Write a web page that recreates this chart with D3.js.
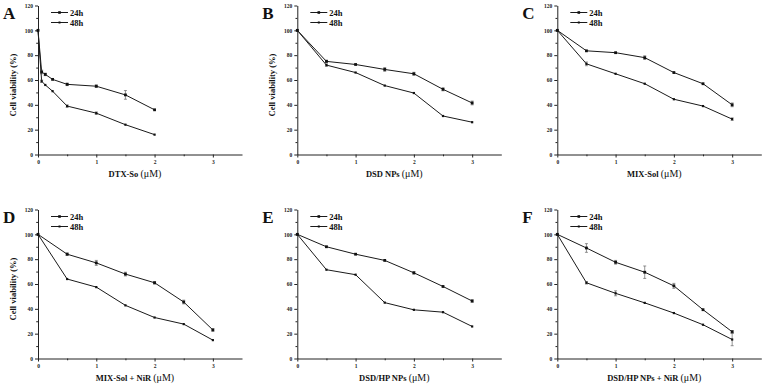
<!DOCTYPE html>
<html>
<head>
<meta charset="utf-8">
<script src="https://cdn.jsdelivr.net/npm/d3@7"></script>
<style>
  body { margin: 0; background: #fff; }
  svg { display: block; font-family: "Liberation Serif", "Times New Roman", serif; }
</style>
</head>
<body>
<div id="chart"></div>
<script>
// panel letters and x axis titles
var letters = ["A", "B", "C", "D", "E", "F"];
var xTitles = ["DTX-So", "DSD NPs", "MIX-Sol", "MIX-Sol + NiR", "DSD/HP NPs", "DSD/HP NPs + NiR"];
var showYTitle = [true, true, false, true, false, false];

// doses (uM)
var dosesA = [0, 0.0625, 0.125, 0.25, 0.5, 1, 1.5, 2];
var doses = [0, 0.5, 1, 1.5, 2, 2.5, 3];

// cell viability (%) -- 24h / 48h, with error
var a24 = [100, 66.5, 64.5, 60.5, 56.5, 55, 48, 36];
var a24Err = [0, 1.5, 1, 0.5, 1, 1, 3.5, 0.5];
var a48 = [100, 59, 56, 51, 39, 33.3, 24, 16];
var a48Err = [0, 1, 0.5, 0.5, 1, 1, 0.5, 0.5];

var b24 = [100, 75, 72.5, 68.5, 65, 52.5, 41.5];
var b24Err = [0, 1, 0.5, 1.5, 1.2, 1.2, 1.5];
var b48 = [100, 72, 66, 55.5, 49.5, 31, 26];
var b48Err = [0, 1, 0.5, 0.5, 0.5, 0.5, 0.5];

var c24 = [100, 83.5, 82, 78, 66, 57, 40];
var c24Err = [0, 0.5, 0.5, 1.5, 0.5, 0.5, 1.5];
var c48 = [100, 73, 65, 57, 44.5, 39, 28.5];
var c48Err = [0, 1.5, 0.5, 0.5, 0.5, 0.5, 1];

var d24 = [100, 84, 77, 68, 61, 45.5, 23];
var d24Err = [0, 1, 2, 1.5, 1, 1.5, 1];
var d48 = [100, 64, 57.5, 42.8, 33, 27.7, 14.8];
var d48Err = [0, 0.5, 0.5, 0.5, 0.5, 0.5, 0.5];

var e24 = [100, 90, 84, 79, 69, 58, 46.3];
var e24Err = [0, 0.5, 0.5, 0.5, 1, 0.5, 1];
var e48 = [100, 71.5, 67.5, 45, 39.2, 37.3, 25.8];
var e48Err = [0, 0.5, 0.5, 0.5, 0.5, 0.5, 0.5];

var f24 = [100, 89, 77.5, 69.5, 58.5, 39.3, 21.5];
var f24Err = [0, 3.5, 1.5, 5, 2, 0.5, 1];
var f48 = [100, 61, 52.5, 44.8, 36.6, 27.2, 15.3];
var f48Err = [0, 1, 2, 0.5, 0.5, 0.5, 5];

var xTicks = [0, 1, 2, 3];
var yTicks = [0, 20, 40, 60, 80, 100, 120];
var seriesNames = ["24h", "48h"];

var panelData = [
  {x: dosesA, s: [a24, a48], e: [a24Err, a48Err]},
  {x: doses, s: [b24, b48], e: [b24Err, b48Err]},
  {x: doses, s: [c24, c48], e: [c24Err, c48Err]},
  {x: doses, s: [d24, d48], e: [d24Err, d48Err]},
  {x: doses, s: [e24, e48], e: [e24Err, e48Err]},
  {x: doses, s: [f24, f48], e: [f24Err, f48Err]}
];

// layout
var colX = [38, 297.3, 557.3];
var rowTop = [5.5, 209.5];
var plotW = 204, plotH = 149;

var svg = d3.select("#chart").append("svg")
  .attr("width", 763)
  .attr("height", 385);

panelData.forEach(function(p, i) {
  var col = i % 3, row = Math.floor(i / 3);
  var g = svg.append("g")
    .attr("transform", "translate(" + colX[col] + "," + rowTop[row] + ")");

  var x = d3.scaleLinear().domain([0, 3.5]).range([0, plotW]);
  var y = d3.scaleLinear().domain([0, 120]).range([plotH, 0]);

  // minor ticks
  g.append("g")
    .attr("transform", "translate(0," + plotH + ")")
    .call(d3.axisBottom(x).tickValues(d3.range(0.5, 3.5, 1)).tickSize(1.8).tickFormat(""))
    .call(function(a) { a.select(".domain").remove(); });
  g.append("g")
    .call(d3.axisLeft(y).tickValues(d3.range(10, 120, 20)).tickSize(1.8).tickFormat(""))
    .call(function(a) { a.select(".domain").remove(); });

  // x axis
  g.append("g")
    .attr("transform", "translate(0," + plotH + ")")
    .call(d3.axisBottom(x).tickValues(xTicks).tickFormat(d3.format("d"))
      .tickSize(3).tickSizeOuter(0).tickPadding(2.5));
  // y axis
  g.append("g")
    .call(d3.axisLeft(y).tickValues(yTicks).tickFormat(d3.format("d"))
      .tickSize(3).tickSizeOuter(0).tickPadding(2));

  g.selectAll(".domain, .tick line").attr("stroke", "#222").attr("stroke-width", 1);
  g.selectAll(".tick text")
    .attr("font-family", "Liberation Serif, Times New Roman, serif")
    .attr("font-size", "5.5px")
    .attr("font-weight", "bold")
    .attr("fill", "#222");

  // lines
  var line = d3.line()
    .x(function(d) { return x(d[0]); })
    .y(function(d) { return y(d[1]); });

  p.s.forEach(function(vals, k) {
    var pts = vals.map(function(v, j) { return [p.x[j], v, p.e[k][j]]; });

    g.append("path")
      .datum(pts)
      .attr("fill", "none")
      .attr("stroke", "#1a1a1a")
      .attr("stroke-width", 1)
      .attr("d", line);

    // error bars
    var eb = g.append("g").attr("stroke", "#666").attr("stroke-width", 0.7);
    pts.filter(function(d) { return d[2] > 0.9; }).forEach(function(d) {
      var cx = x(d[0]);
      eb.append("line").attr("x1", cx).attr("x2", cx)
        .attr("y1", y(d[1] - d[2])).attr("y2", y(d[1] + d[2]));
      eb.append("line").attr("x1", cx - 1.5).attr("x2", cx + 1.5)
        .attr("y1", y(d[1] - d[2])).attr("y2", y(d[1] - d[2]));
      eb.append("line").attr("x1", cx - 1.5).attr("x2", cx + 1.5)
        .attr("y1", y(d[1] + d[2])).attr("y2", y(d[1] + d[2]));
    });

    // markers
    var ms = k === 0 ? 2.8 : 2.2;
    g.selectAll(".m" + k)
      .data(pts)
      .enter()
      .append("rect")
        .attr("x", function(d) { return x(d[0]) - ms / 2; })
        .attr("y", function(d) { return y(d[1]) - ms / 2; })
        .attr("width", ms)
        .attr("height", ms)
        .attr("fill", "#111");
  });

  // legend
  seriesNames.forEach(function(name, k) {
    var ly = 7 + k * 10;
    g.append("line")
      .attr("x1", 13).attr("x2", 30)
      .attr("y1", ly).attr("y2", ly)
      .attr("stroke", "#1a1a1a").attr("stroke-width", 1);
    var ms = k === 0 ? 2.6 : 2;
    g.append("rect")
      .attr("x", 21.5 - ms / 2).attr("y", ly - ms / 2)
      .attr("width", ms).attr("height", ms)
      .attr("fill", "#111");
    g.append("text")
      .attr("x", 32).attr("y", ly + 3)
      .attr("font-size", "8.5px")
      .attr("font-weight", "bold")
      .attr("fill", "#111")
      .text(name);
  });

  // panel letter
  g.append("text")
    .attr("x", -35)
    .attr("y", 13.5)
    .attr("font-size", "17px")
    .attr("font-weight", "bold")
    .attr("fill", "#111")
    .text(letters[i]);

  // x title
  var xt = g.append("text")
    .attr("x", 97)
    .attr("y", plotH + 22)
    .attr("text-anchor", "middle")
    .attr("fill", "#111")
    .attr("font-size", "8.5px");
  xt.append("tspan").attr("font-weight", "bold").text(xTitles[i] + " ");
  xt.append("tspan").attr("font-size", "10px").text("(\u03bcM)");

  // y title
  if (showYTitle[i]) {
    g.append("text")
      .attr("transform", "translate(-22," + (plotH / 2 + 5) + ")rotate(-90)")
      .attr("text-anchor", "middle")
      .attr("font-size", "8.5px")
      .attr("font-weight", "bold")
      .attr("fill", "#111")
      .text("Cell viability (%)");
  }
});
</script>
</body>
</html>
